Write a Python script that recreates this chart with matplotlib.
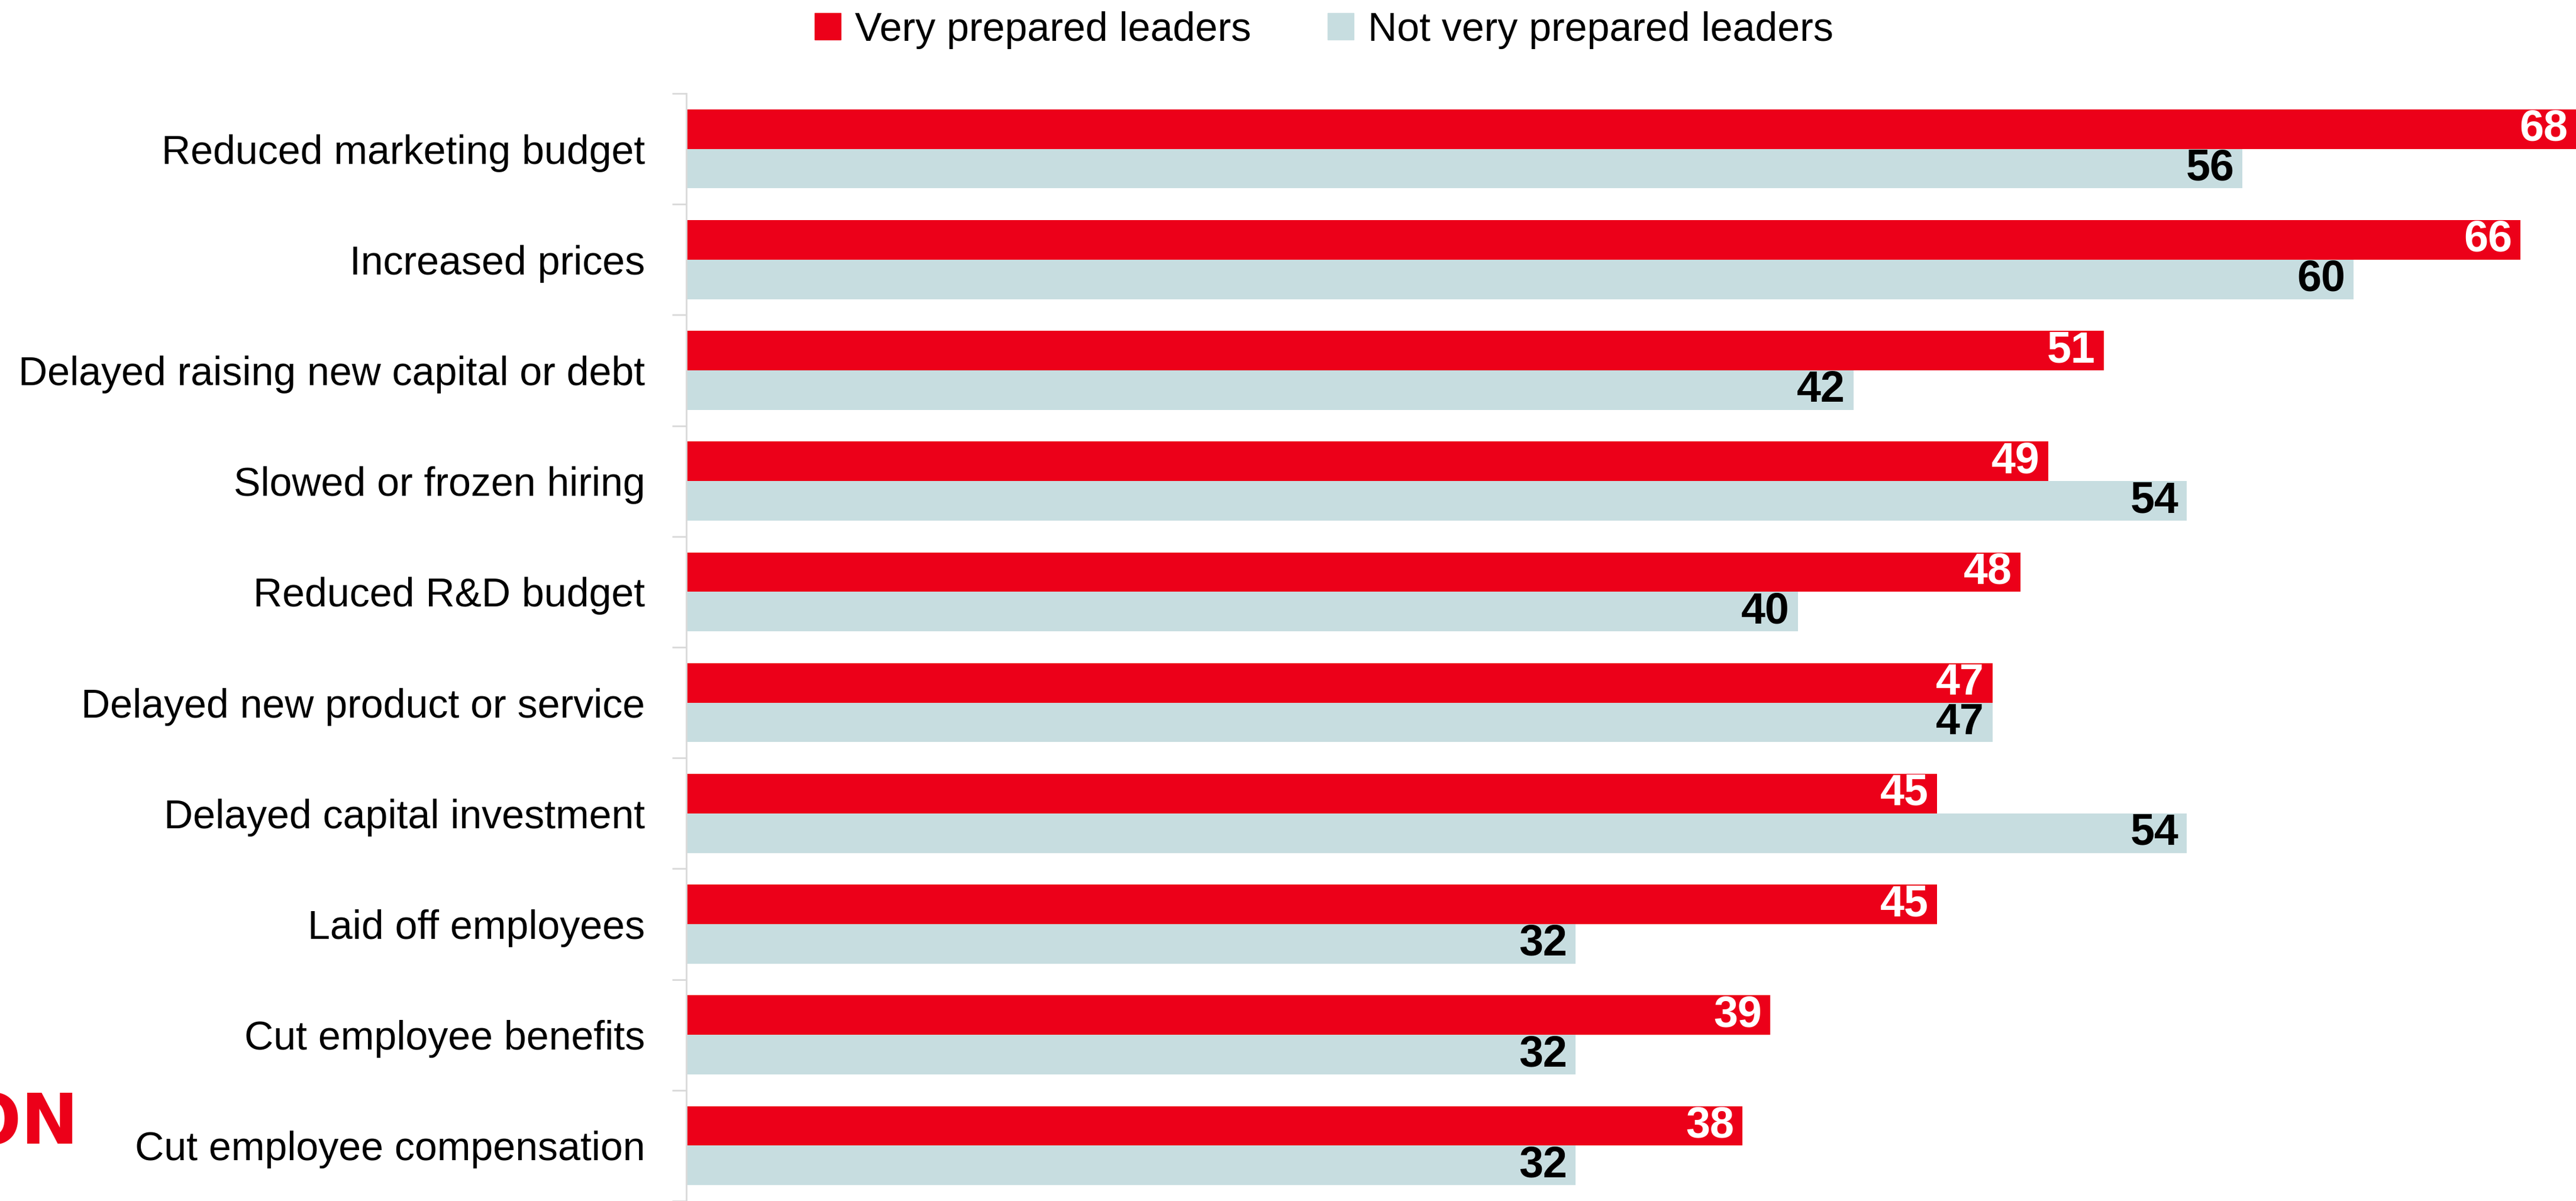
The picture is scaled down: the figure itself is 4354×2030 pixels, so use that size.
import numpy as np
import matplotlib
matplotlib.use("Agg")
import matplotlib.pyplot as plt
from matplotlib.patches import Patch

plt.rcParams['font.family'] = ['Liberation Sans', 'DejaVu Sans']

# Actions taken, share of leaders (%)
actions = [
    "Reduced marketing budget",
    "Increased prices",
    "Delayed raising new capital or debt",
    "Slowed or frozen hiring",
    "Reduced R&D budget",
    "Delayed new product or service",
    "Delayed capital investment",
    "Laid off employees",
    "Cut employee benefits",
    "Cut employee compensation",
]
very_prepared = [68, 66, 51, 49, 48, 47, 45, 45, 39, 38]
not_very_prepared = [56, 60, 42, 54, 40, 47, 54, 32, 32, 32]

red = "#EC0019"
light = "#C7DDE0"

W, H = 4354, 2030
fig = plt.figure(figsize=(W / 100, H / 100), dpi=100)

# axes runs from x=1160px to right edge, top at 158px, past the bottom edge
left = 1160 / W
top = 1 - 158 / H
ax = fig.add_axes([left, 0, 1 - left, top])

n = len(actions)
y = np.arange(n)
bh = 0.357

ax.barh(y - bh / 2, very_prepared, height=bh, color=red, linewidth=0)
ax.barh(y + bh / 2, not_very_prepared, height=bh, color=light, linewidth=0)

for i in range(n):
    ax.text(very_prepared[i] - 0.3, y[i] - bh / 2, str(very_prepared[i]),
            ha='right', va='center', color='white', fontsize=53, fontweight='bold')
    ax.text(not_very_prepared[i] - 0.3, y[i] + bh / 2, str(not_very_prepared[i]),
            ha='right', va='center', color='black', fontsize=53, fontweight='bold')

ax.set_xlim(0, 68)
span = (H - 158) / 189.2
ax.set_ylim(-0.5 + span, -0.5)

ax.set_yticks(y)
ax.set_yticklabels(actions, fontsize=49)
ax.set_yticks(np.arange(n + 1) - 0.5, minor=True)
ax.tick_params(axis='y', which='major', length=0, pad=50)
ax.tick_params(axis='y', which='minor', length=17, width=2, color='#D9D9D9')
ax.set_xticks([])

for s in ['top', 'right', 'bottom']:
    ax.spines[s].set_visible(False)
ax.spines['left'].set_color('#D9D9D9')
ax.spines['left'].set_linewidth(2)

handles = [Patch(color=red, label="Very prepared leaders"),
           Patch(color=light, label="Not very prepared leaders")]
fig.legend(handles=handles, loc='upper center', bbox_to_anchor=(0.514, 1.021),
           ncol=2, frameon=False, fontsize=49, handlelength=0.65, handleheight=0.65,
           handletextpad=0.35, columnspacing=1.9)

# logo fragment at the lower left
fig.text(133 / W, 1 - 1933 / H, "ON", color=red, fontsize=84, fontweight='bold',
         family='DejaVu Sans', ha='right', va='baseline')

fig.savefig("out.png", dpi=100)
